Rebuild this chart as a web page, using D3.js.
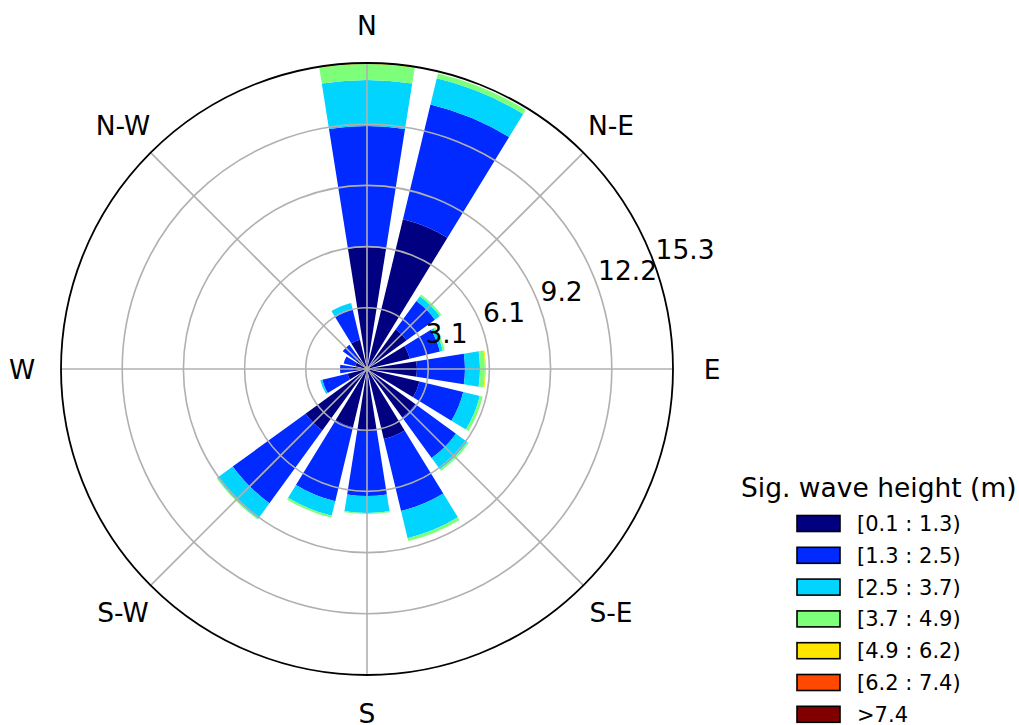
<!DOCTYPE html>
<meta charset="utf-8">
<html>
  <head>
    <style>
      body { margin: 0; background: #fff; }
      text { font-family: "DejaVu Sans", sans-serif; fill: #000; }
      .grid { fill: none; stroke: #b0b0b0; stroke-width: 1.6px; }
      .spine { fill: none; stroke: #000; stroke-width: 1.8px; }
      .dirLabel { font-size: 26.5px; }
      .rLabel { font-size: 26.5px; }
      .legTitle { font-size: 26.5px; }
      .legLabel { font-size: 21px; }
      rect.legBox { stroke: #000; stroke-width: 1.6px; }
    </style>
    <script src="https://cdn.jsdelivr.net/npm/d3@7"></script>
  </head>
  <body>
    <div id="chart"></div>
    <script type="text/javascript">
      // 16 sectors, clockwise from north
      var directions = ["N", "NNE", "NE", "ENE", "E", "ESE", "SE", "SSE",
                        "S", "SSW", "SW", "WSW", "W", "WNW", "NW", "NNW"];
      var compassLabels = ["N", "N-E", "E", "S-E", "S", "S-W", "W", "N-W"];
      var binLabels = ["[0.1 : 1.3)", "[1.3 : 2.5)", "[2.5 : 3.7)", "[3.7 : 4.9)",
                       "[4.9 : 6.2)", "[6.2 : 7.4)", ">7.4"];
      var binColors = ["#000080", "#002aff", "#00d4ff", "#7dff7a", "#ffe600", "#ff4800", "#800000"];

      // frequency (%) per direction, one array per wave-height bin
      var bin0 = [6.1, 7.7, 2.45, 2.2, 2.5, 2.7, 3.0, 3.6, 3.1, 3.0, 3.8, 1.0, 0.7, 0.6, 0.7, 1.5];
      var bin1 = [6.05, 5.9, 1.75, 1.55, 2.4, 2.25, 2.5, 3.7, 3.25, 3.8, 4.5, 1.3, 0.65, 0.6, 0.8, 1.6];
      var bin2 = [2.3, 1.35, 0.3, 0.15, 0.75, 0.85, 0.7, 1.4, 0.85, 0.75, 0.95, 0.1, 0, 0, 0, 0.3];
      var bin3 = [0.8, 0.25, 0.1, 0.1, 0.25, 0.15, 0.1, 0.15, 0.05, 0.1, 0.05, 0, 0, 0, 0, 0];
      var bin4 = [0.05, 0, 0, 0, 0.05, 0, 0, 0, 0, 0, 0, 0, 0, 0, 0, 0];
      var bin5 = [0, 0, 0, 0, 0, 0, 0, 0, 0, 0, 0, 0, 0, 0, 0, 0];
      var bin6 = [0, 0, 0, 0, 0, 0, 0, 0, 0, 0, 0, 0, 0, 0, 0, 0];
      var rMax = 15.3;

      var width = 1019, height = 725,
          cx = 367, cy = 369, radius = 306,
          sector = 2 * Math.PI / directions.length,
          opening = 0.8;

      var bins = [bin0, bin1, bin2, bin3, bin4, bin5, bin6];
      var keys = bins.map(function(b, j) { return "b" + j; });
      var rows = directions.map(function(d, i) {
        var row = { dir: d, i: i };
        bins.forEach(function(b, j) { row["b" + j] = b[i]; });
        return row;
      });
      var series = d3.stack().keys(keys)(rows);

      var r = d3.scaleLinear().domain([0, rMax]).range([0, radius]);
      var rTicks = d3.range(1, 6).map(function(k) { return rMax * k / 5; });

      var svg = d3.select("#chart").append("svg")
          .attr("width", width)
          .attr("height", height);

      var g = svg.append("g")
          .attr("transform", "translate(" + cx + "," + cy + ")");

      var arc = d3.arc()
          .innerRadius(function(d) { return r(d[0]); })
          .outerRadius(function(d) { return r(d[1]); })
          .startAngle(function(d) { return d.data.i * sector - opening * sector / 2; })
          .endAngle(function(d) { return d.data.i * sector + opening * sector / 2; });

      g.selectAll(".layer")
          .data(series)
          .enter().append("g")
            .attr("class", "layer")
            .style("fill", function(s, j) { return binColors[j]; })
          .selectAll("path")
          .data(function(s) { return s.filter(function(d) { return d[1] > d[0]; }); })
          .enter().append("path")
            .attr("d", arc);

      // grid on top of bars
      g.selectAll(".ring")
          .data(rTicks.slice(0, -1))
          .enter().append("circle")
            .attr("class", "grid ring")
            .attr("r", function(d) { return r(d); });

      g.selectAll(".spoke")
          .data(d3.range(8))
          .enter().append("line")
            .attr("class", "grid spoke")
            .attr("x1", 0).attr("y1", 0)
            .attr("x2", function(d) { return radius * Math.sin(d * Math.PI / 4); })
            .attr("y2", function(d) { return -radius * Math.cos(d * Math.PI / 4); });

      g.append("circle")
          .attr("class", "spine")
          .attr("r", radius);

      g.selectAll(".dirLabel")
          .data(compassLabels)
          .enter().append("text")
            .attr("class", "dirLabel")
            .attr("x", function(d, i) { return 345 * Math.sin(i * Math.PI / 4); })
            .attr("y", function(d, i) { return -344 * Math.cos(i * Math.PI / 4); })
            .attr("text-anchor", "middle")
            .attr("dominant-baseline", "central")
            .text(function(d) { return d; });

      var labAngle = 70 * Math.PI / 180;
      g.selectAll(".rLabel")
          .data(rTicks)
          .enter().append("text")
            .attr("class", "rLabel")
            .attr("x", function(d) { return r(d) * Math.sin(labAngle) + 1; })
            .attr("y", function(d) { return -r(d) * Math.cos(labAngle) - 5; })
            .text(function(d) { return d3.format(".1f")(d); });

      // legend
      var legend = svg.append("g")
          .attr("transform", "translate(741,0)");

      legend.append("text")
          .attr("class", "legTitle")
          .attr("x", 0)
          .attr("y", 497)
          .text("Sig. wave height (m)");

      var items = legend.selectAll(".legItem")
          .data(binLabels)
          .enter().append("g")
            .attr("class", "legItem")
            .attr("transform", function(d, i) { return "translate(0," + (523.5 + i * 31.8) + ")"; });

      items.append("rect")
          .attr("class", "legBox")
          .attr("x", 56)
          .attr("y", -8)
          .attr("width", 43)
          .attr("height", 16)
          .style("fill", function(d, i) { return binColors[i]; });

      items.append("text")
          .attr("class", "legLabel")
          .attr("x", 116)
          .attr("y", 7.5)
          .text(function(d) { return d; });
    </script>
  </body>
</html>
